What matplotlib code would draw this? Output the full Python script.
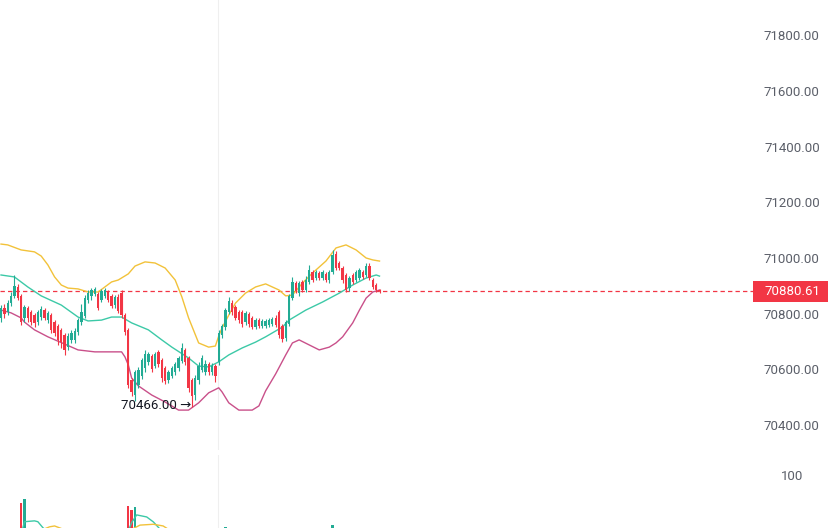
import numpy as np
import matplotlib
matplotlib.use("Agg")
import matplotlib.pyplot as plt
from matplotlib.patches import Rectangle
import matplotlib.transforms as mtransforms

# ---------------- data ----------------
opens = [70785, 70821, 70806, 70838, 70864, 70896, 70864, 70785, 70821, 70806,
         70795, 70770, 70788, 70813, 70777, 70795, 70770, 70756, 70742, 70724,
         70680, 70706, 70706, 70734, 70770, 70792, 70849, 70864, 70871, 70871,
         70849, 70864, 70878, 70864, 70831, 70860, 70874, 70795, 70742, 70562,
         70508, 70544, 70576, 70605, 70627, 70648, 70612, 70663, 70634, 70605,
         70562, 70576, 70591, 70605, 70630, 70670, 70641, 70562, 70508, 70562,
         70598, 70591, 70620, 70591, 70612, 70627, 70724, 70752, 70806, 70838,
         70824, 70806, 70806, 70770, 70799, 70785, 70752, 70777, 70756, 70756,
         70759, 70763, 70785, 70806, 70756, 70713, 70763, 70856, 70910, 70874,
         70914, 70885, 70914, 70950, 70928, 70946, 70928, 70943, 70921, 70950,
         71014, 70982, 70964, 70939, 70892, 70939, 70921, 70928, 70950, 70939,
         70971, 70921, 70903, 70885]
highs = [70831, 70835, 70849, 70878, 70939, 70907, 70871, 70831, 70828, 70813,
         70803, 70813, 70828, 70821, 70810, 70803, 70777, 70763, 70749, 70731,
         70731, 70742, 70749, 70785, 70835, 70867, 70885, 70892, 70896, 70878,
         70889, 70892, 70885, 70871, 70867, 70871, 70885, 70803, 70749, 70569,
         70598, 70609, 70641, 70670, 70663, 70655, 70663, 70670, 70641, 70612,
         70598, 70612, 70627, 70648, 70695, 70677, 70648, 70569, 70580, 70627,
         70652, 70634, 70627, 70623, 70620, 70742, 70763, 70821, 70860, 70849,
         70831, 70813, 70813, 70810, 70806, 70792, 70785, 70785, 70781, 70781,
         70785, 70788, 70795, 70813, 70763, 70777, 70871, 70932, 70917, 70917,
         70921, 70935, 70975, 70957, 70957, 70953, 70957, 70950, 70957, 71029,
         71025, 70989, 70971, 70946, 70935, 70946, 70957, 70964, 70957, 70982,
         70982, 70928, 70910, 70889]
lows = [70770, 70785, 70795, 70828, 70856, 70849, 70759, 70770, 70770, 70759,
        70752, 70759, 70777, 70777, 70767, 70731, 70720, 70688, 70677, 70652,
        70670, 70695, 70695, 70724, 70759, 70785, 70838, 70849, 70864, 70813,
        70842, 70856, 70842, 70821, 70821, 70803, 70785, 70724, 70534, 70505,
        70487, 70534, 70566, 70591, 70616, 70591, 70605, 70609, 70555, 70548,
        70551, 70569, 70580, 70594, 70623, 70616, 70519, 70466, 70490, 70548,
        70591, 70580, 70580, 70580, 70555, 70616, 70713, 70742, 70799, 70795,
        70777, 70767, 70752, 70759, 70752, 70745, 70745, 70749, 70749, 70749,
        70752, 70756, 70752, 70713, 70698, 70702, 70756, 70849, 70874, 70864,
        70878, 70878, 70907, 70914, 70921, 70921, 70921, 70914, 70910, 70943,
        70957, 70957, 70910, 70878, 70881, 70907, 70914, 70921, 70925, 70932,
        70921, 70889, 70878, 70874]
closes = [70821, 70799, 70838, 70864, 70899, 70856, 70770, 70824, 70785, 70770,
          70767, 70806, 70817, 70785, 70803, 70742, 70731, 70706, 70698, 70670,
          70720, 70731, 70738, 70777, 70806, 70856, 70874, 70885, 70889, 70821,
          70881, 70885, 70849, 70828, 70860, 70810, 70795, 70734, 70544, 70519,
          70591, 70598, 70634, 70655, 70655, 70602, 70655, 70620, 70569, 70559,
          70591, 70605, 70620, 70641, 70677, 70627, 70534, 70505, 70569, 70612,
          70641, 70620, 70591, 70612, 70576, 70731, 70756, 70813, 70846, 70806,
          70785, 70777, 70763, 70803, 70763, 70752, 70777, 70756, 70774, 70774,
          70777, 70781, 70759, 70724, 70709, 70770, 70864, 70914, 70881, 70910,
          70885, 70921, 70957, 70921, 70950, 70928, 70950, 70921, 70950, 71011,
          70964, 70964, 70921, 70885, 70928, 70914, 70950, 70957, 70932, 70971,
          70928, 70896, 70885, 70880.61]
volumes = [22, 18, 15, 20, 26, 24, 67, 72, 30, 20,
           18, 16, 14, 15, 13, 22, 18, 20, 19, 24,
           20, 15, 14, 18, 22, 25, 17, 14, 12, 20,
           14, 12, 15, 13, 14, 18, 24, 28, 64, 59,
           62, 30, 26, 24, 18, 20, 16, 17, 22, 20,
           15, 14, 13, 14, 18, 17, 28, 34, 30, 22,
           18, 14, 12, 13, 16, 32, 26, 39, 24, 16,
           14, 13, 12, 11, 12, 10, 10, 9, 9, 10,
           9, 10, 14, 22, 18, 24, 33, 30, 14, 15,
           12, 16, 20, 14, 12, 11, 10, 10, 12, 41,
           28, 15, 18, 24, 15, 12, 10, 11, 10, 14,
           16, 18, 16, 8]

# Bollinger bands (bar index, price)
bb_upper_idx = [0, 2, 6, 10, 12, 14, 16, 18, 20, 23, 26, 29, 31, 33, 35, 38, 40, 43, 46,
                49, 52, 54, 56, 59, 62, 64, 65, 66, 68, 70, 73, 76, 79, 83, 85, 87, 90,
                93, 97, 100, 103, 106, 109, 111, 113]
bb_upper = [71050, 71047, 71029, 71022, 71007, 70975, 70932, 70903, 70892, 70889, 70878,
            70878, 70896, 70914, 70921, 70943, 70971, 70986, 70982, 70964, 70921, 70860,
            70785, 70695, 70680, 70684, 70720, 70749, 70795, 70838, 70874, 70896, 70907,
            70885, 70864, 70867, 70910, 70946, 70989, 71036, 71047, 71029, 71000, 70993,
            70989]
bb_mid_idx = [0, 4, 8, 12, 18, 23, 26, 30, 33, 36, 39, 44, 48, 51, 56, 59, 62, 65, 68,
              72, 76, 79, 84, 86, 91, 96, 101, 105, 109, 112, 113]
bb_mid = [70939, 70932, 70896, 70864, 70831, 70788, 70774, 70777, 70788, 70788, 70767,
          70742, 70706, 70680, 70641, 70612, 70609, 70627, 70652, 70677, 70698, 70717,
          70752, 70777, 70813, 70842, 70874, 70903, 70928, 70939, 70935]
bb_lower_idx = [0, 3, 6, 7, 10, 14, 19, 23, 28, 33, 36, 37, 38, 39, 41, 45, 49, 53, 56,
                59, 62, 65, 66, 68, 71, 75, 77, 79, 82, 85, 87, 89, 92, 95, 98, 100, 102,
                105, 107, 109, 111, 113]
bb_lower = [70813, 70803, 70785, 70770, 70742, 70717, 70691, 70670, 70663, 70663, 70663,
            70645, 70616, 70569, 70541, 70508, 70483, 70454, 70454, 70480, 70516, 70534,
            70519, 70480, 70454, 70454, 70469, 70523, 70584, 70652, 70695, 70706, 70688,
            70670, 70680, 70695, 70717, 70767, 70813, 70856, 70878, 70885]

# volume moving averages (visible fragments only)
vma_fast_idx = [5, 6, 7, 10, 11, 12.5, 14, np.nan, 38, 39, 40.5, 43.5, 45.5, 46.6, 48]
vma_fast = [25, 30, 45, 46, 45, 38, 33, np.nan, 34, 44, 53, 50.6, 44.7, 40, 34]
vma_slow_idx = [12, 14.5, 16, 18, 20, np.nan, 39, 41.5, 45.5, 48.4, 50]
vma_slow = [35, 39, 40, 37, 34, np.nan, 36, 41, 42, 40, 36]

price_ticks = [70400, 70600, 70800, 71000, 71200, 71400, 71600, 71800]
vol_ticks = [100]
last_price = 70880.61
low_label = "70466.00 →"
low_price = 70466
low_idx = 57

# ---------------- style ----------------
GREEN = "#22ab94"
RED = "#f23645"
C_UP = "#f2c23a"
C_MID = "#3cc9a7"
C_LOW = "#c9508a"
TXT = "#5b5f69"
FONT = ["Roboto", "DejaVu Sans"]

W, H = 829, 528
fig = plt.figure(figsize=(W / 100, H / 100), dpi=100)
fig.patch.set_facecolor("white")
plot_right = 753
ax = fig.add_axes([0, 78 / H, plot_right / W, 450 / H])
axv = fig.add_axes([0, 0, plot_right / W, 73 / H])

n = len(opens)
idx = np.arange(n)
o = np.array(opens, float)
c = np.array(closes, float)
hi = np.array(highs, float)
lo = np.array(lows, float)
up = c >= o
cols = np.where(up, GREEN, RED)

# vertical grid line
for a in (ax, axv):
    a.axvline(64.8, color="#efefef", lw=0.8, zorder=0)

# wicks and bodies
ax.vlines(idx, lo, hi, colors=cols, lw=0.8, zorder=3)
body_bottom = np.minimum(o, c)
body_h = np.maximum(np.abs(c - o), 2.0)
ax.bar(idx, body_h, bottom=body_bottom, width=0.7, color=cols, zorder=4, linewidth=0)

# bands
ax.plot(bb_upper_idx, bb_upper, color=C_UP, lw=1.0, zorder=2)
ax.plot(bb_mid_idx, bb_mid, color=C_MID, lw=1.0, zorder=2)
ax.plot(bb_lower_idx, bb_lower, color=C_LOW, lw=1.0, zorder=2)

# last price line
ax.axhline(last_price, color=RED, lw=0.9, dashes=(3.5, 2.5), zorder=1)

# low annotation
ax.text(low_idx - 0.3, low_price + 4, low_label, ha="right", va="center",
        fontsize=9.5, color="#131722", family=FONT, zorder=5)

ax.set_xlim(-0.3, 224.5)
ax.set_ylim(70310.7, 71926.2)
ax.set_xticks([])
ax.yaxis.tick_right()
ax.set_yticks(price_ticks)
ax.set_yticklabels([f"{t:.2f}" for t in price_ticks])
ax.tick_params(axis="y", length=0, pad=28, labelsize=9.5, labelcolor=TXT)
for lab in ax.get_yticklabels():
    lab.set_horizontalalignment("center")
    lab.set_family(FONT)
for s in ax.spines.values():
    s.set_visible(False)

# price label box
tr = mtransforms.blended_transform_factory(ax.transAxes, ax.transData)
half = 10.5 * 3.59
ax.add_patch(Rectangle((1.0, last_price - half), W / plot_right - 1.0, 2 * half,
                       transform=tr, facecolor=RED, edgecolor="none", clip_on=False, zorder=6))
ax.text(792 / plot_right, last_price, f"{last_price:.2f}", transform=tr, ha="center",
        va="center", color="white", fontsize=9.5, family=FONT, clip_on=False, zorder=7)

# volume pane
axv.bar(idx, volumes, width=0.7, color=cols, linewidth=0, zorder=3)
axv.plot(vma_fast_idx, vma_fast, color=C_MID, lw=1.0, zorder=4)
axv.plot(vma_slow_idx, vma_slow, color=C_UP, lw=1.0, zorder=4)
axv.set_xlim(-0.3, 224.5)
axv.set_ylim(37.6, 123.5)
axv.set_xticks([])
axv.yaxis.tick_right()
axv.set_yticks(vol_ticks)
axv.set_yticklabels([str(t) for t in vol_ticks])
axv.tick_params(axis="y", length=0, pad=28, labelsize=9.5, labelcolor=TXT)
for lab in axv.get_yticklabels():
    lab.set_horizontalalignment("center")
    lab.set_family(FONT)
for s in axv.spines.values():
    s.set_visible(False)
axv.patch.set_alpha(0)

fig.savefig("out.png", dpi=100, facecolor="white")
